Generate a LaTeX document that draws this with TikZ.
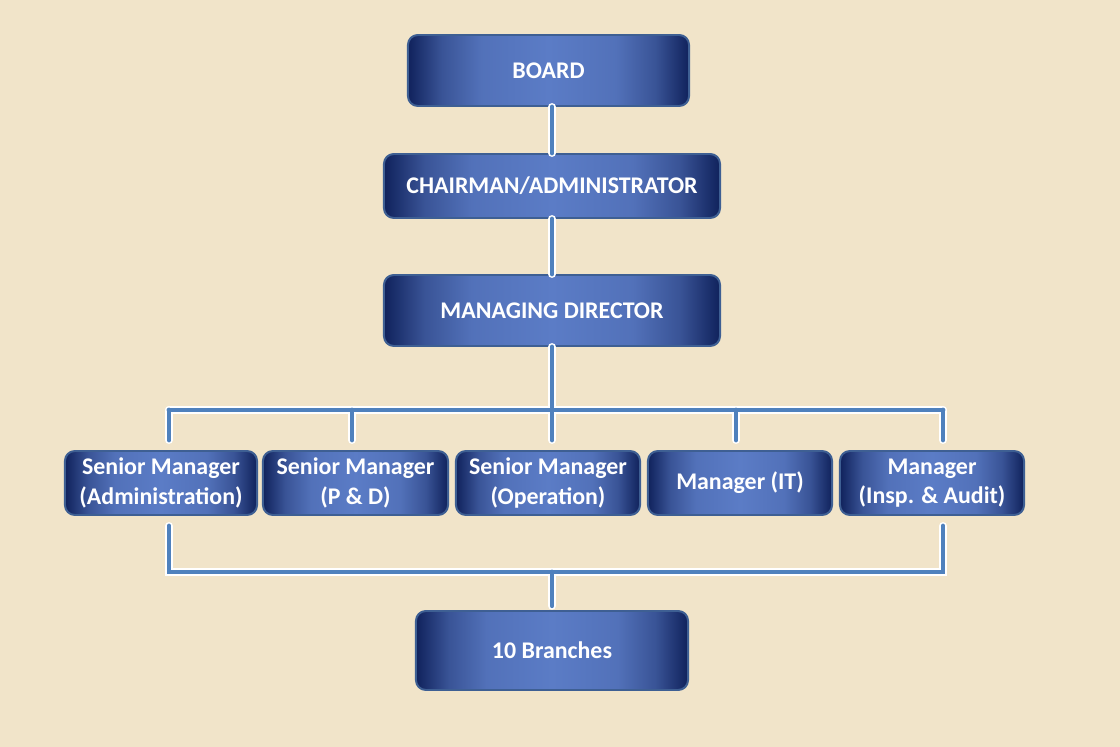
\documentclass[tikz,border=0pt]{standalone}
\usepackage{fontspec}
\setmainfont{Carlito}
\definecolor{paper}{HTML}{F1E4C9}
\definecolor{boxdark}{HTML}{10225C}
\definecolor{boxlight}{HTML}{5B7CC6}
\definecolor{boxline}{HTML}{3E5F93}
\definecolor{linkblue}{HTML}{4F81BD}
\pgfdeclarehorizontalshading{postshade}{100bp}{color(0bp)=(boxdark);
  color(25bp)=(boxdark); color(31bp)=(boxlight!55!boxdark);
  color(38bp)=(boxlight!88!boxdark); color(50bp)=(boxlight);
  color(62bp)=(boxlight!88!boxdark); color(69bp)=(boxlight!55!boxdark);
  color(75bp)=(boxdark); color(100bp)=(boxdark)}

\begin{document}
\begin{tikzpicture}[x=0.025cm, y=-0.025cm,
    post/.style={draw=boxline, line width=1.4pt, rounded corners=7pt,
      shading=postshade, shading angle=0,
      text=white, font=\bfseries\fontsize{17}{21}\selectfont,
      align=center, inner sep=0pt, minimum height=1.6cm},
    glow/.style={white, line width=5.6pt, line cap=round},
    link/.style={linkblue, line width=3.4pt, line cap=round}]

\fill[paper] (0,0) rectangle (1120,747);
\useasboundingbox (0,0) rectangle (1120,747);

\node [post, minimum width=7.025cm, minimum height=1.775cm] (board) at (548.5,70.5){BOARD};
\node [post, minimum width=8.4cm] (chair) at (552,186){CHAIRMAN/ADMINISTRATOR};
\node [post, minimum width=8.4cm, minimum height=1.775cm] (md) at (552,310.5){MANAGING DIRECTOR};
\node [post, minimum width=4.8cm] (sma) at (161,483){Senior Manager\\(Administration)};
\node [post, minimum width=4.625cm] (smp) at (355.5,483){Senior Manager\\(P \& D)};
\node [post, minimum width=4.6cm] (smo) at (548,483){Senior Manager\\(Operation)};
\node [post, minimum width=4.6cm] (mit) at (740,483){Manager (IT)};
\node [post, minimum width=4.6cm] (mia) at (932,483){Manager\\(Insp. \& Audit)};
\node [post, minimum width=6.8cm, minimum height=1.975cm] (br) at (552,650.5){10 Branches};

% bus lines
\coordinate (tl) at (169,410);
\coordinate (tr) at (943,410);
\coordinate (bl) at (169,572);
\coordinate (br2) at (943,572);
\coordinate (ua) at (169,526);
\coordinate (ub) at (943,526);

\foreach \ly in {glow,link}{
\draw[\ly] (chair.north |- board.south) -- (chair.north);
\draw[\ly] (chair.south) -- (md.north);
\draw[\ly] (md.south) -- (md.south |- tl);
\draw[\ly] (tl) -- (tr);
\foreach \x in {169,352,552,736,943}
  \draw[\ly] (\x,410) -- (\x,440);
\draw[\ly] (ua) -- (bl) -- (br2) -- (ub);
\draw[\ly] (br.north |- bl) -- ([yshift=3pt]br.north);
}
\end{tikzpicture}
\end{document}
